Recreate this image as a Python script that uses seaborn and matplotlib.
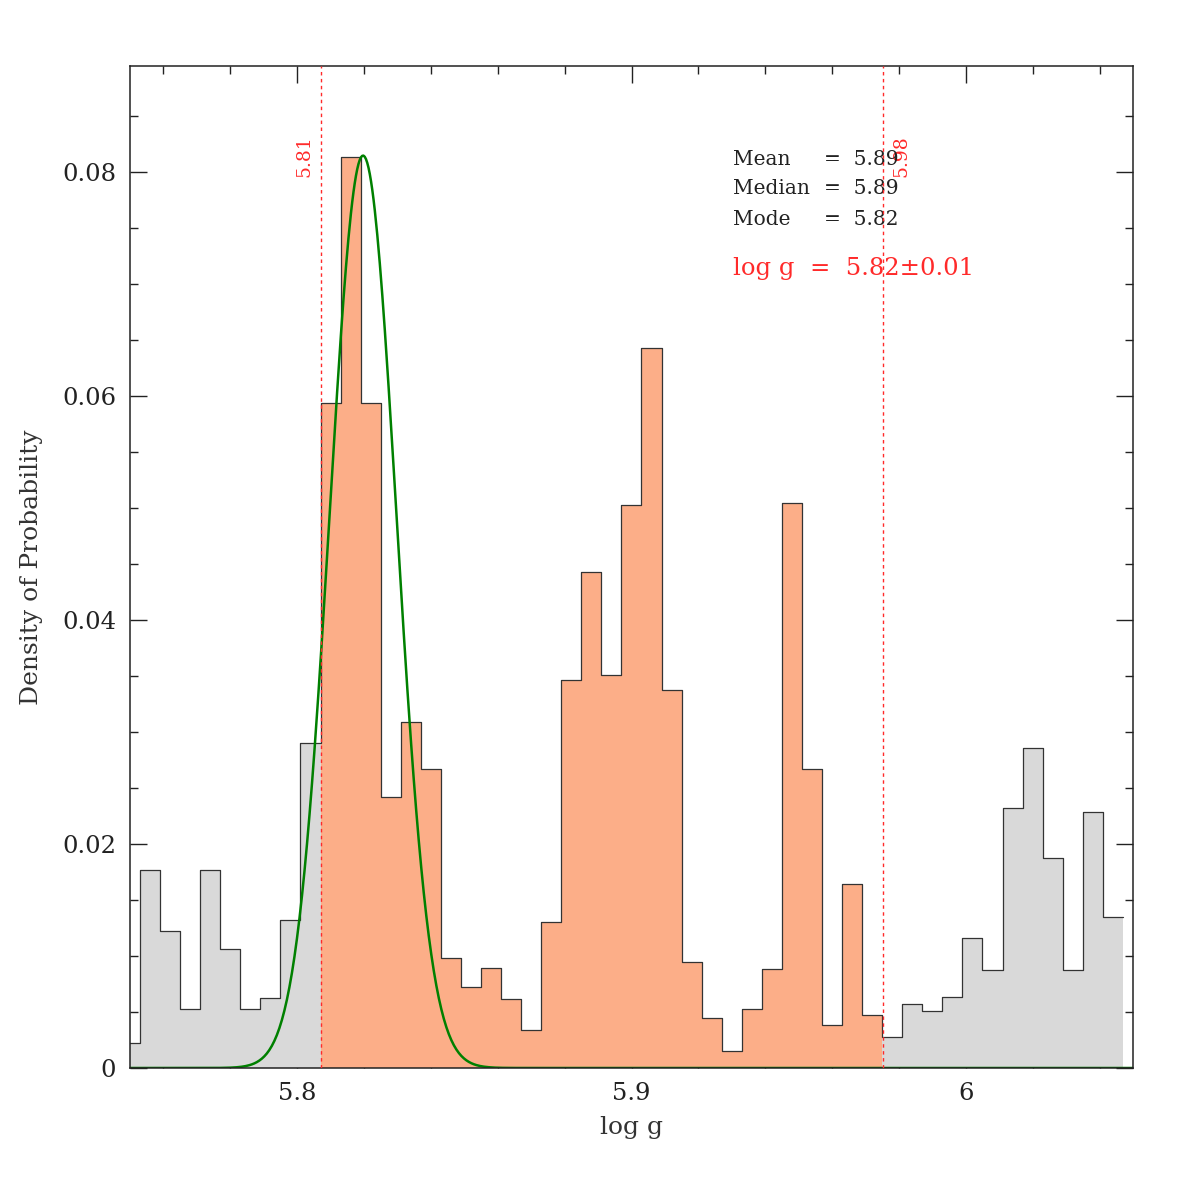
import numpy as np
import pandas as pd
import matplotlib
matplotlib.use("Agg")
import matplotlib.pyplot as plt
import seaborn as sns
from matplotlib.ticker import MultipleLocator

# histogram of log g samples (bin heights)
bin_start = 5.74698
bin_width = 0.006
heights = [
    0.0022, 0.0177, 0.0122, 0.00524, 0.0177, 0.01063, 0.00524, 0.00622, 0.01324, 0.0290,
    0.0594, 0.0814, 0.0594, 0.0242, 0.0309, 0.0267, 0.0098, 0.0072, 0.0089, 0.00613,
    0.00339, 0.0130, 0.0347, 0.0443, 0.0351, 0.0503, 0.0643, 0.0338, 0.00944, 0.00443,
    0.00152, 0.0053, 0.00881, 0.0505, 0.0267, 0.00381, 0.0164, 0.0047, 0.0028, 0.00569,
    0.00506, 0.00631, 0.01164, 0.00872, 0.0232, 0.0286, 0.01875, 0.00875, 0.0229, 0.0135,
]
# bins inside the credible interval (coloured)
sel_first, sel_last = 10, 37
lo_bound = 5.80698
hi_bound = 5.97524

# fitted gaussian
mu = 5.8197
sigma = 0.0100
peak = 0.0815

mean_val, median_val, mode_val = 5.89, 5.89, 5.82
err_val = 0.01

edges = bin_start + bin_width * np.arange(len(heights) + 1)
centers = 0.5 * (edges[:-1] + edges[1:])
df = pd.DataFrame({"logg": centers, "dens": heights})
sel = df.iloc[sel_first:sel_last + 1]

sns.set_style("ticks")
plt.rcParams["font.family"] = ["DejaVu Serif"]

fig = plt.figure(figsize=(11.96, 11.96), dpi=100)
ax = fig.add_axes([130 / 1196, 1 - 1068 / 1196, 1003 / 1196, 1002 / 1196])

# grey fill for all bins
sns.histplot(data=df, x="logg", weights="dens", bins=list(edges), element="step", fill=True,
             color="#d9d9d9", alpha=1, linewidth=0, ax=ax)
# orange fill for selected bins
sns.histplot(data=sel, x="logg", weights="dens", bins=list(edges[sel_first:sel_last + 2]),
             element="step", fill=True, color="#fcae88", alpha=1, linewidth=0, ax=ax)
# outline
sns.histplot(data=df, x="logg", weights="dens", bins=list(edges), element="step", fill=False,
             color="#333333", linewidth=0.9, ax=ax)

# gaussian curve
xs = np.linspace(5.75, 6.05, 800)
ys = peak * np.exp(-0.5 * ((xs - mu) / sigma) ** 2)
sns.lineplot(x=xs, y=ys, color="#008000", linewidth=1.8, ax=ax)

# interval bounds
red = "#ff2a2a"
for b in (lo_bound, hi_bound):
    ax.axvline(b, color=red, linestyle=(0, (2.5, 2.5)), linewidth=1.0, zorder=5)
ax.text(lo_bound - 0.0021, 0.0833, f"{lo_bound:.2f}", rotation=90, ha="right", va="top",
        color=red, fontsize=13.5)
ax.text(hi_bound + 0.0029, 0.0833, f"{hi_bound:.2f}", rotation=90, ha="left", va="top",
        color=red, fontsize=13.5)

# stats
tx, ex = 5.9305, 5.9575
for lab, val, yy in [("Mean", mean_val, 0.08116), ("Median", median_val, 0.07857),
                     ("Mode", mode_val, 0.0758)]:
    ax.text(tx, yy, lab, ha="left", va="center", fontsize=14.5, color="#222222")
    ax.text(ex, yy, f"=  {val:.2f}", ha="left", va="center", fontsize=14.5, color="#222222")
ax.text(tx, 0.07143, f"log g  =  {mode_val:.2f}\u00b1{err_val:.2f}", ha="left", va="center",
        fontsize=17.5, color=red)

ax.set_xlim(5.75, 6.05)
ax.set_ylim(0, 0.0895)
ax.xaxis.set_minor_locator(MultipleLocator(0.02))
ax.yaxis.set_minor_locator(MultipleLocator(0.005))
ax.set_xticks([5.8, 5.9, 6.0])
ax.set_xticklabels(["5.8", "5.9", "6"])
ax.set_yticks([0, 0.02, 0.04, 0.06, 0.08])
ax.set_yticklabels(["0", "0.02", "0.04", "0.06", "0.08"])
ax.tick_params(which="both", direction="in", top=True, right=True, labelsize=17.5,
               color="#222222", labelcolor="#222222", pad=10)
ax.tick_params(which="major", length=12, width=1)
ax.tick_params(which="minor", length=6, width=1)
for s in ax.spines.values():
    s.set_linewidth(1.1)
    s.set_color("#222222")

ax.set_xlabel("log g", fontsize=18, color="#333333", labelpad=8)
ax.set_ylabel("Density of Probability", fontsize=18, color="#333333", labelpad=14)

fig.savefig("out.png", dpi=100)
